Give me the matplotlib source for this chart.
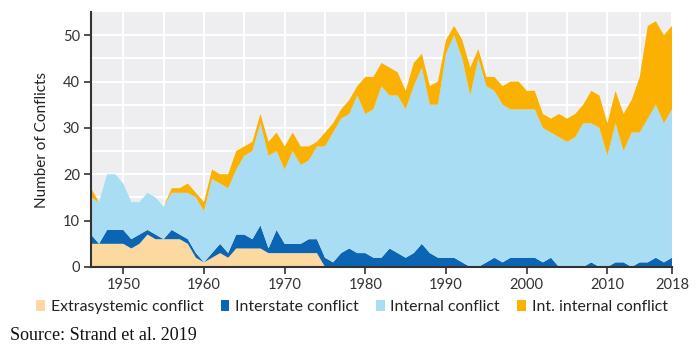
import matplotlib
matplotlib.use("Agg")
import matplotlib.pyplot as plt
from matplotlib.patches import Patch
import numpy as np

years = list(range(1946, 2019))

extrasystemic = [5, 5, 5, 5, 5, 4, 5, 7, 6, 6, 6, 6, 5, 2, 1,
                 2, 3, 2, 4, 4, 4, 4, 3, 3, 3, 3, 3, 3, 3,
                 0, 0, 0, 0, 0, 0, 0, 0, 0, 0, 0, 0, 0, 0, 0,
                 0, 0, 0, 0, 0, 0, 0, 0, 0, 0, 0, 0, 0, 0, 0,
                 0, 0, 0, 0, 0, 0, 0, 0, 0, 0, 0, 0, 0, 0]
interstate = [2, 0, 3, 3, 3, 2, 2, 1, 1, 0, 2, 1, 1, 1, 0,
              1, 2, 1, 3, 3, 2, 5, 1, 5, 2, 2, 2, 3, 3,
              2, 1, 3, 4, 3, 3, 2, 2, 4, 3, 2, 3, 5, 3, 2,
              2, 2, 1, 0, 0, 1, 2, 1, 2, 2, 2, 2, 1, 2, 0,
              0, 0, 0, 1, 0, 0, 1, 1, 0, 1, 1, 2, 1, 2]
internal = [8, 9, 12, 12, 10, 8, 7, 8, 8, 7, 8, 9, 10, 12, 11,
            16, 13, 14, 14, 17, 19, 22, 20, 17, 16, 20, 17, 17, 20,
            24, 28, 29, 29, 34, 30, 32, 37, 33, 34, 32, 36, 38, 32, 33,
            44, 48, 44, 37, 45, 38, 36, 34, 32, 32, 32, 32, 29, 27, 28,
            27, 28, 31, 30, 30, 24, 30, 24, 29, 28, 31, 33, 30, 32]
int_internal = [2, 0, 0, 0, 0, 0, 0, 0, 0, 0, 1, 1, 2, 1, 2,
                2, 2, 3, 4, 2, 2, 2, 3, 4, 5, 4, 4, 3, 1,
                3, 2, 2, 3, 2, 8, 7, 5, 6, 5, 4, 5, 3, 4, 5,
                3, 2, 4, 6, 2, 2, 3, 4, 6, 6, 4, 4, 3, 3, 5,
                5, 5, 4, 7, 7, 7, 7, 8, 7, 12, 20, 18, 19, 18]

labels = ["Extrasystemic conflict", "Interstate conflict",
          "Internal conflict", "Int. internal conflict"]
colors = ["#fcd9a1", "#0b65b3", "#a9ddf3", "#fbb102"]

x_ticks = [1950, 1960, 1970, 1980, 1990, 2000, 2010, 2018]
y_ticks = [0, 10, 20, 30, 40, 50]

plt.rcParams['font.family'] = ['Lato', 'DejaVu Sans']

fig = plt.figure(figsize=(7.0, 3.64), dpi=100)
ax = fig.add_axes([91 / 700, (364 - 267) / 364, (672 - 91) / 700, (267 - 12) / 364])
ax.set_facecolor("#eeeef0")

ax.stackplot(years, extrasystemic, interstate, internal, int_internal,
             colors=colors, linewidth=0, zorder=3)

ax.set_xlim(1946, 2018)
ax.set_ylim(0, 55)
ax.set_xticks(x_ticks)
ax.set_yticks(y_ticks)
minor_x = [(a + b) / 2 for a, b in zip(x_ticks[:-1], x_ticks[1:])]
ax.set_xticks(minor_x, minor=True)
ax.set_yticks([5, 15, 25, 35, 45], minor=True)
ax.grid(True, which="both", color="white", linewidth=1.4, zorder=1)
ax.set_axisbelow(True)
ax.tick_params(axis="both", which="minor", length=0)
ax.tick_params(axis="both", which="major", length=5, width=1.2, color="#333333",
               labelsize=10.5, labelcolor="#333333", pad=3)
for s in ["top", "right"]:
    ax.spines[s].set_visible(False)
for s in ["left", "bottom"]:
    ax.spines[s].set_color("#333333")
    ax.spines[s].set_linewidth(1.5)
    ax.spines[s].set_zorder(5)

ax.set_ylabel("Number of Conflicts", fontsize=11, color="#222222", labelpad=10)

handles = [Patch(facecolor=c, edgecolor="none") for c in colors]
fig.legend(handles, labels, loc="center", bbox_to_anchor=(352 / 700, 1 - 307 / 364),
           ncol=4, frameon=False, fontsize=11.4, handlelength=0.55, handleheight=0.7,
           handletextpad=0.35, columnspacing=1.1, labelcolor="#222222")

fig.text(10 / 700, 1 - 336 / 364, "Source: Strand et al. 2019", fontsize=13,
         family=["Liberation Serif"], va="center", ha="left", color="#111111")

fig.savefig("out.png", dpi=100, facecolor="white")
